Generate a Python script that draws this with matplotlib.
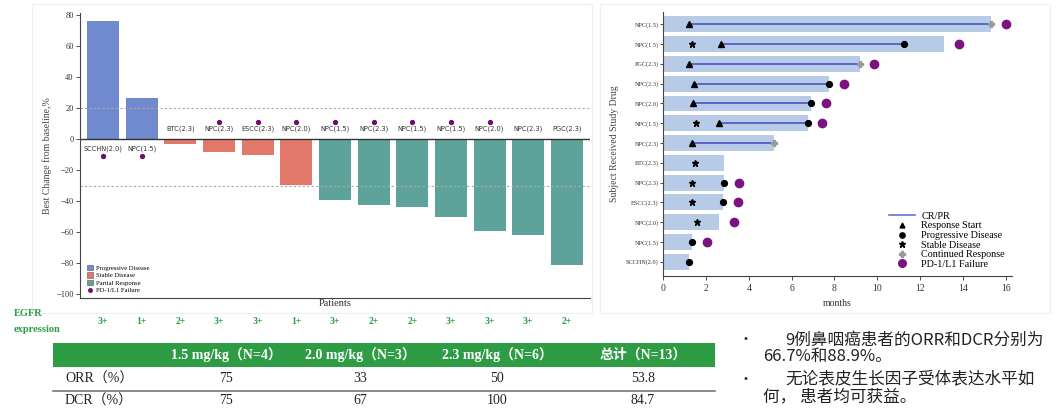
import numpy as np
import matplotlib
matplotlib.use('Agg')
import matplotlib.pyplot as plt
import matplotlib.transforms as mtransforms
from matplotlib.patches import Patch, Rectangle
from matplotlib.lines import Line2D

# ---- waterfall: best change from baseline per patient ----
patients = ['SCCHN(2.0)', 'NPC(1.5)', 'BTC(2.3)', 'NPC(2.3)', 'ESCC(2.3)', 'NPC(2.0)',
            'NPC(1.5)', 'NPC(2.3)', 'NPC(1.5)', 'NPC(1.5)', 'NPC(2.0)', 'NPC(2.3)', 'PGC(2.3)']
best_change = [76.5, 26.3, -3.4, -8.2, -10.5, -29.7, -39.4, -42.8, -43.9, -50.3, -59.5, -61.7, -81.5]
best_response = ['PD', 'PD', 'SD', 'SD', 'SD', 'SD', 'PR', 'PR', 'PR', 'PR', 'PR', 'PR', 'PR']
pd1_failure = [1, 1, 0, 1, 1, 1, 1, 1, 1, 1, 1, 0, 0]
egfr_expression = ['3+', '1+', '2+', '3+', '3+', '1+', '3+', '2+', '2+', '3+', '3+', '3+', '2+']

# ---- swimmer: months on study drug, top row first ----
swim_labels = ['NPC(1.5)', 'NPC(1.5)', 'PGC(2.3)', 'NPC(2.3)', 'NPC(2.0)', 'NPC(1.5)', 'NPC(2.3)',
               'BTC(2.3)', 'NPC(2.3)', 'ESCC(2.3)', 'NPC(2.0)', 'NPC(1.5)', 'SCCHN(2.0)']
nan = np.nan
duration = [15.3, 13.1, 9.2, 7.75, 6.9, 6.75, 5.17, 2.85, 2.83, 2.8, 2.6, 1.35, 1.2]
response_start = [1.2, 2.68, 1.2, 1.45, 1.4, 2.6, 1.35, nan, nan, nan, nan, nan, nan]
progressive = [nan, 11.25, nan, 7.75, 6.9, 6.75, nan, nan, 2.83, 2.8, nan, 1.35, 1.2]
stable = [nan, 1.32, nan, nan, nan, 1.53, nan, 1.48, 1.35, 1.32, 1.56, nan, nan]
continued = [15.3, nan, 9.2, nan, nan, nan, 5.17, nan, nan, nan, nan, nan, nan]
failure = [16.0, 13.8, 9.85, 8.45, 7.6, 7.44, nan, nan, 3.53, 3.5, 3.3, 2.05, nan]

# ---- summary table ----
dose_groups = ['1.5 mg/kg（N=4）', '2.0 mg/kg（N=3）', '2.3 mg/kg（N=6）', '总计（N=13）']
orr = ['75', '33', '50', '53.8']
dcr = ['75', '67', '100', '84.7']
notes = ['9例鼻咽癌患者的ORR和DCR分别为', '66.7%和88.9%。',
         '无论表皮生长因子受体表达水平如', '何， 患者均可获益。']

SERIF = 'Liberation Serif'
CJK = ['Noto Sans CJK SC', 'DejaVu Sans']
W, H = 1058, 409
colors = {'PD': '#7189cf', 'SD': '#e2786a', 'PR': '#5ea39a'}
purple = '#6a0f6e'
green = '#2e9b45'


def fx(px):
    return px / W


def fy(py):
    return 1 - py / H


fig = plt.figure(figsize=(W / 100, H / 100), dpi=100)

# faint card outlines behind the two charts
for x0, x1 in [(32, 592), (600, 1050)]:
    fig.patches.append(Rectangle((fx(x0), fy(313)), fx(x1 - x0), (313 - 4) / H,
                                 transform=fig.transFigure, fill=False,
                                 edgecolor='#efefef', lw=0.8))

# ================= waterfall =================
ax = fig.add_axes([fx(80), fy(298), fx(510), (298 - 13) / H])
x = np.arange(len(patients))
ax.bar(x, best_change, width=0.83, color=[colors[r] for r in best_response])
ax.axhline(0, color='#333333', lw=1.0)
ax.axhline(20, color='#aaaaaa', lw=0.8, ls=(0, (2, 2)))
ax.axhline(-30, color='#aaaaaa', lw=0.8, ls=(0, (2, 2)))

for i, (name, val) in enumerate(zip(patients, best_change)):
    if val > 0:
        ax.text(i, -6, name, ha='center', va='center', fontsize=4.8, color='#333333')
        if pd1_failure[i]:
            ax.plot(i, -11, 'o', color=purple, ms=2.8)
    else:
        ax.text(i, 6.5, name, ha='center', va='center', fontsize=4.8, color='#333333')
        if pd1_failure[i]:
            ax.plot(i, 11, 'o', color=purple, ms=2.8)

ax.set_xlim(-0.6, 12.6)
ax.set_ylim(-102.6, 81.5)
ax.set_yticks(np.arange(-100, 81, 20))
ax.set_xticks([])
for lab in ax.get_yticklabels():
    lab.set_fontfamily(SERIF)
ax.tick_params(axis='y', labelsize=6, length=3, width=0.6, colors='#333333', pad=1.5)
for side in ['top', 'right']:
    ax.spines[side].set_visible(False)
for side in ['left', 'bottom']:
    ax.spines[side].set_color('#444444')
    ax.spines[side].set_linewidth(0.8)
ax.set_ylabel('Best Change from baseline,%', fontsize=7, family=SERIF, color='#444444', labelpad=3)
ax.set_xlabel('Patients', fontsize=7.5, family=SERIF, color='#333333', labelpad=1)

wf_handles = [Patch(facecolor=colors['PD'], edgecolor='#555555', lw=0.4, label='Progressive Disease'),
              Patch(facecolor=colors['SD'], edgecolor='#555555', lw=0.4, label='Stable Disease'),
              Patch(facecolor=colors['PR'], edgecolor='#555555', lw=0.4, label='Partial Response'),
              Line2D([], [], ls='none', marker='o', color=purple, ms=2.5, label='PD-1/L1 Failure')]
ax.legend(handles=wf_handles, loc='lower left', bbox_to_anchor=(0.005, 0.0), frameon=False,
          prop={'family': SERIF, 'size': 4.8}, handlelength=0.8, handleheight=0.8,
          handletextpad=0.5, labelspacing=0.25, borderpad=0.2)

# EGFR expression under each patient
blend = mtransforms.blended_transform_factory(ax.transData, fig.transFigure)
for i, e in enumerate(egfr_expression):
    ax.text(i, fy(322), e, transform=blend, ha='center', va='center', fontsize=7,
            family=SERIF, fontweight='bold', color=green, clip_on=False)
fig.text(fx(14), fy(314), 'EGFR', ha='left', va='center', fontsize=7.5, family=SERIF,
         fontweight='bold', color=green)
fig.text(fx(14), fy(329), 'expression', ha='left', va='center', fontsize=7.5, family=SERIF,
         fontweight='bold', color=green)

# ================= swimmer =================
sx = fig.add_axes([fx(663.3), fy(276), fx(1012 - 663.3), (276 - 12) / H])
n = len(swim_labels)
y = np.arange(n)[::-1]
sx.barh(y, duration, height=0.8, color='#b7cbe6')
for yi, s, p, c in zip(y, response_start, progressive, continued):
    end = p if not np.isnan(p) else c
    if not np.isnan(s):
        sx.plot([s, end], [yi, yi], color='#4b55c6', lw=1.2, zorder=2)
sx.plot(response_start, y, ls='none', marker='^', color='black', ms=3.8, zorder=3)
sx.plot(progressive, y, ls='none', marker='o', color='black', ms=4.2, zorder=3)
sx.plot(stable, y, ls='none', marker='*', color='black', ms=5, zorder=3)
sx.plot(continued, y, ls='none', marker='P', color='#999999', ms=4, zorder=3)
sx.plot(failure, y, ls='none', marker='o', color='#7a1380', ms=6, zorder=3)

sx.set_xlim(0, 16.3)
sx.set_ylim(-0.72, n - 1 + 0.62)
sx.set_yticks(y)
sx.set_yticklabels(swim_labels)
sx.set_xticks(np.arange(0, 17, 2))
for lab in sx.get_yticklabels() + sx.get_xticklabels():
    lab.set_fontfamily(SERIF)
sx.tick_params(axis='y', labelsize=4.5, length=2.5, width=0.6, colors='#333333', pad=1)
sx.tick_params(axis='x', labelsize=7, length=3, width=0.6, colors='#333333', pad=3)
for side in ['top', 'right']:
    sx.spines[side].set_visible(False)
for side in ['left', 'bottom']:
    sx.spines[side].set_color('#444444')
    sx.spines[side].set_linewidth(0.8)
sx.set_xlabel('months', fontsize=7, family=SERIF, color='#333333', labelpad=4)
sx.set_ylabel('Subject Received Study Drug', fontsize=7, family=SERIF, color='#444444', labelpad=5)

sw_handles = [Line2D([], [], color='#6a70d0', lw=1.2, label='CR/PR'),
              Line2D([], [], ls='none', marker='^', color='black', ms=3.5, label='Response Start'),
              Line2D([], [], ls='none', marker='o', color='black', ms=3.8, label='Progressive Disease'),
              Line2D([], [], ls='none', marker='*', color='black', ms=4.5, label='Stable Disease'),
              Line2D([], [], ls='none', marker='P', color='#999999', ms=3.8, label='Continued Response'),
              Line2D([], [], ls='none', marker='o', color='#7a1380', ms=5.5, label='PD-1/L1 Failure')]
sx.legend(handles=sw_handles, loc='lower right', bbox_to_anchor=(1.0, 0.0), frameon=False,
          prop={'family': SERIF, 'size': 7.3}, handlelength=2.6, handletextpad=0.6,
          labelspacing=0.05, borderpad=0.2)

# ================= summary table =================
tx0, tx1 = 53, 715
col_x = [226, 360, 497, 643]
fig.patches.append(Rectangle((fx(tx0), fy(367)), fx(tx1 - tx0), 24 / H,
                             transform=fig.transFigure, color=green, lw=0))
for cx, head in zip(col_x, dose_groups):
    fig.text(fx(cx), fy(355), head, ha='center', va='center', fontsize=10,
             family=[SERIF, 'Noto Sans CJK SC'], fontweight='bold', color='white')
fig.text(fx(65), fy(379), 'ORR（%）', ha='left', va='center', fontsize=10,
         family=[SERIF, 'Noto Sans CJK SC'], color='#222222')
fig.text(fx(65), fy(401), 'DCR（%）', ha='left', va='center', fontsize=10,
         family=[SERIF, 'Noto Sans CJK SC'], color='#222222')
for cx, a, b in zip(col_x, orr, dcr):
    fig.text(fx(cx), fy(379), a, ha='center', va='center', fontsize=10, family=SERIF, color='#222222')
    fig.text(fx(cx), fy(401), b, ha='center', va='center', fontsize=10, family=SERIF, color='#222222')
fig.add_artist(Line2D([fx(tx0), fx(tx1)], [fy(390.5), fy(390.5)], color='#777777', lw=1.2,
                      transform=fig.transFigure))

# ================= notes =================
fig.text(fx(738), fy(340), '•', ha='left', va='center', fontsize=10, family=CJK, color='#222222')
fig.text(fx(785), fy(340), notes[0], ha='left', va='center', fontsize=12, family=CJK, color='#222222')
fig.text(fx(763), fy(356), notes[1], ha='left', va='center', fontsize=12, family=CJK, color='#222222')
fig.text(fx(738), fy(380), '•', ha='left', va='center', fontsize=10, family=CJK, color='#222222')
fig.text(fx(785), fy(380), notes[2], ha='left', va='center', fontsize=12, family=CJK, color='#222222')
fig.text(fx(763), fy(397), notes[3], ha='left', va='center', fontsize=12, family=CJK, color='#222222')

fig.savefig('out.png', dpi=100)
